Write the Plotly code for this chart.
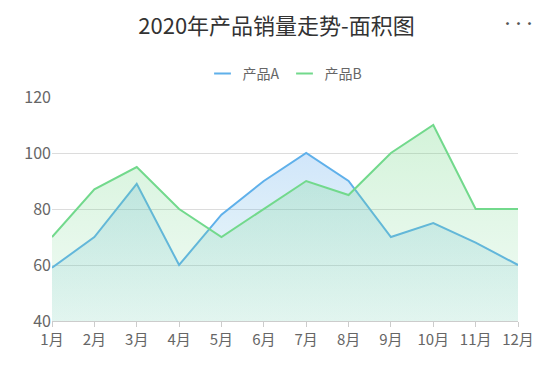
import plotly.graph_objects as go

months = ["1月", "2月", "3月", "4月", "5月", "6月", "7月", "8月", "9月", "10月", "11月", "12月"]
product_a = [59, 70, 89, 60, 78, 90, 100, 90, 70, 75, 68, 60]
product_b = [70, 87, 95, 80, 70, 80, 90, 85, 100, 110, 80, 80]
y_ticks = [40, 60, 80, 100, 120]

color_a = "#5fb0ea"
color_b = "#72d98c"
FONT = "Noto Sans CJK SC, Microsoft YaHei, sans-serif"

fig = go.Figure()
fig.add_trace(go.Scatter(
    x=months, y=product_a, mode="lines", name="产品A", showlegend=False,
    line=dict(color=color_a, width=2),
    fill="tozeroy",
    fillgradient=dict(type="vertical", start=40, stop=100,
                      colorscale=[[0, "rgba(110,200,205,0.12)"], [1, "rgba(90,165,240,0.28)"]]),
))
fig.add_trace(go.Scatter(
    x=months, y=product_b, mode="lines", name="产品B", showlegend=False,
    line=dict(color=color_b, width=2),
    fill="tozeroy",
    fillgradient=dict(type="vertical", start=40, stop=110,
                      colorscale=[[0, "rgba(120,215,150,0.10)"], [1, "rgba(110,215,130,0.30)"]]),
))
# legend entries (short line symbols)
for name, col in (("产品A", color_a), ("产品B", color_b)):
    fig.add_trace(go.Scatter(x=[None], y=[None], mode="markers", name=name,
                             marker=dict(symbol="line-ew", size=12, color=col,
                                         line=dict(color=col, width=2))))

fig.update_layout(
    width=548, height=360,
    margin=dict(l=44, r=38, t=89, b=47),
    paper_bgcolor="white", plot_bgcolor="white",
    font=dict(family=FONT, color="#666", size=14),
    title=dict(text="2020年产品销量走势-面积图", x=0.49, xanchor="center", y=0.95, yanchor="middle",
               font=dict(size=22, color="#333", family=FONT)),
    legend=dict(orientation="h", x=0.5, xanchor="center", y=1.103, yanchor="middle",
                font=dict(size=14, color="#666"), traceorder="normal"),
    xaxis=dict(type="category", range=[0, 11], showgrid=False, showline=True,
               linecolor="#ccc", linewidth=1, ticks="outside", ticklen=5, tickcolor="#ccc",
               tickfont=dict(size=15, color="#666"), fixedrange=True),
    yaxis=dict(range=[40, 120], tickvals=y_ticks, showgrid=True, gridcolor="#dcdcdc",
               zeroline=False, showline=False, tickfont=dict(size=16, color="#666"),
               ticks="", fixedrange=True),
    annotations=[dict(text="<b>···</b>", xref="paper", x=1.0, xanchor="center",
                      yref="paper", y=1.0, yanchor="middle", yshift=74,
                      showarrow=False, font=dict(size=11, color="#555"))],
)

fig.write_html("out.html", config={"displayModeBar": False})
